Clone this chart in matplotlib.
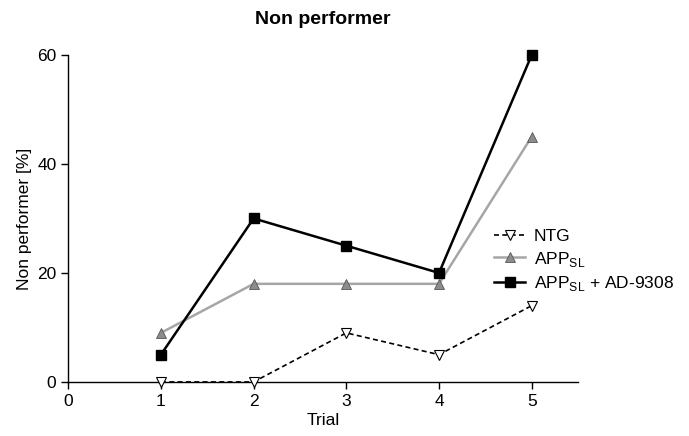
import numpy as np
import matplotlib.pyplot as plt

plt.rcParams["font.family"] = ["Liberation Sans", "DejaVu Sans"]

trials = [1, 2, 3, 4, 5]
ntg = [0, 0, 9, 5, 14]
app_sl = [9, 18, 18, 18, 45]
app_sl_ad = [5, 30, 25, 20, 60]

fig = plt.figure(figsize=(6.89, 4.36), dpi=100)
ax = fig.add_axes([0.099, 0.124, 0.74, 0.75])

ax.plot(trials, ntg, color="black", linestyle=(0, (3, 2)), linewidth=1.2,
        marker="v", markersize=6.5, markerfacecolor="white", markeredgecolor="black",
        markeredgewidth=0.8, label="NTG", clip_on=False, zorder=3)
ax.plot(trials, app_sl, color="#a6a6a6", linewidth=1.8,
        marker="^", markersize=6.5, markerfacecolor="#8c8c8c", markeredgecolor="#555555",
        markeredgewidth=0.6, label="APP$_{\\mathregular{SL}}$", clip_on=False, zorder=4)
ax.plot(trials, app_sl_ad, color="black", linewidth=1.8,
        marker="s", markersize=7, markerfacecolor="black", markeredgecolor="black",
        label="APP$_{\\mathregular{SL}}$ + AD-9308", clip_on=False, zorder=5)

ax.set_xlim(0, 5.5)
ax.set_ylim(0, 60)
ax.set_xticks([0, 1, 2, 3, 4, 5])
ax.set_yticks([0, 20, 40, 60])
ax.spines["top"].set_visible(False)
ax.spines["right"].set_visible(False)
ax.spines["left"].set_linewidth(1.0)
ax.spines["bottom"].set_linewidth(1.0)
ax.tick_params(direction="out", length=5, width=1.0, labelsize=12.5)

ax.set_xlabel("Trial", fontsize=12.5, labelpad=3)
ax.set_ylabel("Non performer [%]", fontsize=12.5, labelpad=4)
ax.set_title("Non performer", fontsize=14, fontweight="bold", pad=22)

leg = ax.legend(loc="center left", bbox_to_anchor=(0.835, 0.37), frameon=False,
                fontsize=12.5, handlelength=1.8, labelspacing=0.3, handletextpad=0.5,
                borderaxespad=0, borderpad=0)

fig.savefig("out.png", dpi=100)
